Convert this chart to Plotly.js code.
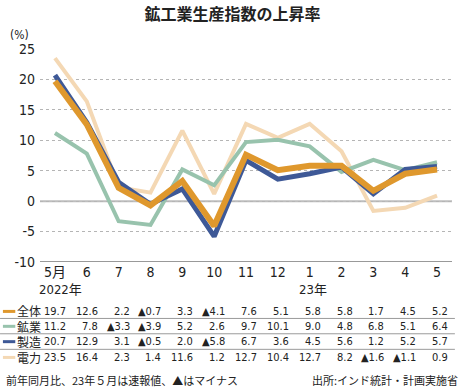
<!DOCTYPE html>
<html><head><meta charset="utf-8">
<script src="https://cdn.plot.ly/plotly-3.0.1.min.js"></script>
<style>body{margin:0;background:#fff}#c{width:465px;height:390px}</style>
</head><body><div id="c"></div>
<script>
const months = ['5月','6','7','8','9','10','11','12','1','2','3','4','5'];
const seriesNames = ['全体','鉱業','製造','電力'];
const total = [19.7, 12.6, 2.2, -0.7, 3.3, -4.1, 7.6, 5.1, 5.8, 5.8, 1.7, 4.5, 5.2];
const mining = [11.2, 7.8, -3.3, -3.9, 5.2, 2.6, 9.7, 10.1, 9.0, 4.8, 6.8, 5.1, 6.4];
const manufacturing = [20.7, 12.9, 3.1, -0.5, 2.0, -5.8, 6.7, 3.6, 4.5, 5.6, 1.2, 5.2, 5.7];
const electricity = [23.5, 16.4, 2.3, 1.4, 11.6, 1.2, 12.7, 10.4, 12.7, 8.2, -1.6, -1.1, 0.9];
const yearLabels = ['2022年','23年'];
const yTicks = [-10,-5,0,5,10,15,20,25];

const FONT = "'Liberation Sans Narrow', 'DejaVu Sans Condensed', 'Noto Sans CJK JP', sans-serif";
const JFONT = "'Noto Sans CJK JP', sans-serif";
const colors = ['#DF982D','#98C3AD','#3E5997','#F4D8B4'];
const widths = [6,4,5,4];
const data = [total, mining, manufacturing, electricity];
const idx = months.map((m,i)=>i);

const order = [3,1,2,0];
const traces = order.map(k => ({
  x: idx, y: data[k], type:'scatter', mode:'lines', name: seriesNames[k],
  line:{color:colors[k], width:widths[k]}, hoverinfo:'skip'
}));

const rowY = [-0.232, -0.302, -0.374, -0.448];
const lineY = [-0.265, -0.337, -0.410];
const annotations = [];
const shapes = [];
function fmt(v){ return v < 0 ? '▲' + Math.abs(v).toFixed(1) : v.toFixed(1); }
annotations.push({xref:'paper', yref:'paper', x:-0.058, y:(rowY[0]+rowY[3])/2, text:seriesNames.join('<br>'), showarrow:false,
  xanchor:'left', yanchor:'middle', align:'left', borderpad:0, font:{family:JFONT, size:12, color:'#222'}});
data.forEach((arr,k)=>{
  shapes.push({type:'line', xref:'paper', yref:'paper', x0:-0.090, x1:-0.060, y0:rowY[k], y1:rowY[k],
    line:{color:colors[k], width:3}});
  arr.forEach((v,i)=>{
    annotations.push({xref:'x', yref:'paper', x:i, y:rowY[k], text:fmt(v), showarrow:false,
      xanchor:'right', yanchor:'middle', xshift:12, borderpad:0, font:{family:FONT, size:11, color:'#222'}});
  });
});
lineY.forEach(y=>shapes.push({type:'line', xref:'paper', yref:'paper', x0:-0.097, x1:1.007, y0:y, y1:y,
  line:{color:'#9a9a9a', width:1}}));
// zero line
shapes.push({type:'line', xref:'paper', yref:'y', x0:0, x1:1, y0:0, y1:0, line:{color:'#bdbdbd', width:2}, layer:'below'});

annotations.push({xref:'x', yref:'paper', x:0, y:-0.13, text:yearLabels[0], showarrow:false, xanchor:'center', yanchor:'middle', xshift:6,
  font:{family:FONT, size:13, color:'#222'}});
annotations.push({xref:'x', yref:'paper', x:8, y:-0.13, text:yearLabels[1], showarrow:false, xanchor:'center', yanchor:'middle', xshift:3,
  font:{family:FONT, size:13, color:'#222'}});
annotations.push({xref:'paper', yref:'paper', x:-0.05, y:1.065, text:'(%)', showarrow:false, xanchor:'center', yanchor:'middle',
  font:{family:FONT, size:12, color:'#222'}});
annotations.push({xref:'paper', yref:'paper', x:-0.088, y:-0.556, text:'前年同月比、23年５月は速報値、▲はマイナス', showarrow:false, xanchor:'left', yanchor:'middle',
  font:{family:JFONT, size:11, color:'#222'}});
annotations.push({xref:'paper', yref:'paper', x:1.02, y:-0.556, text:'出所:インド統計・計画実施省', showarrow:false, xanchor:'right', yanchor:'middle',
  font:{family:JFONT, size:11, color:'#222'}});

const layout = {
  width:465, height:390,
  margin:{l:40, r:13, t:49, b:128},
  paper_bgcolor:'#fff', plot_bgcolor:'#fff',
  showlegend:false,
  title:{text:'<b>鉱工業生産指数の上昇率</b>', x:0.5, xanchor:'center', y:0.962, yanchor:'middle',
    font:{family:JFONT, size:16, color:'#222'}},
  xaxis:{range:[-0.47,12.47], tickvals:idx, ticktext:months, showgrid:false, zeroline:false,
    showline:false, ticks:'', tickfont:{family:FONT, size:14, color:'#222'}, fixedrange:true},
  yaxis:{range:[-10,25], tickvals:yTicks, ticktext:yTicks.map(String), showgrid:true, gridcolor:'#b5b5b5', griddash:'dot', gridwidth:1,
    zeroline:false, showline:false, ticks:'', ticklabelstandoff:4, tickfont:{family:FONT, size:14, color:'#222'}, fixedrange:true},
  shapes: shapes.concat([{type:'line', xref:'paper', yref:'y', x0:0, x1:1, y0:-10, y1:-10, line:{color:'#777', width:1.5}}]),
  annotations: annotations
};
Plotly.newPlot('c', traces, layout, {staticPlot:true, displayModeBar:false});
</script></body></html>
